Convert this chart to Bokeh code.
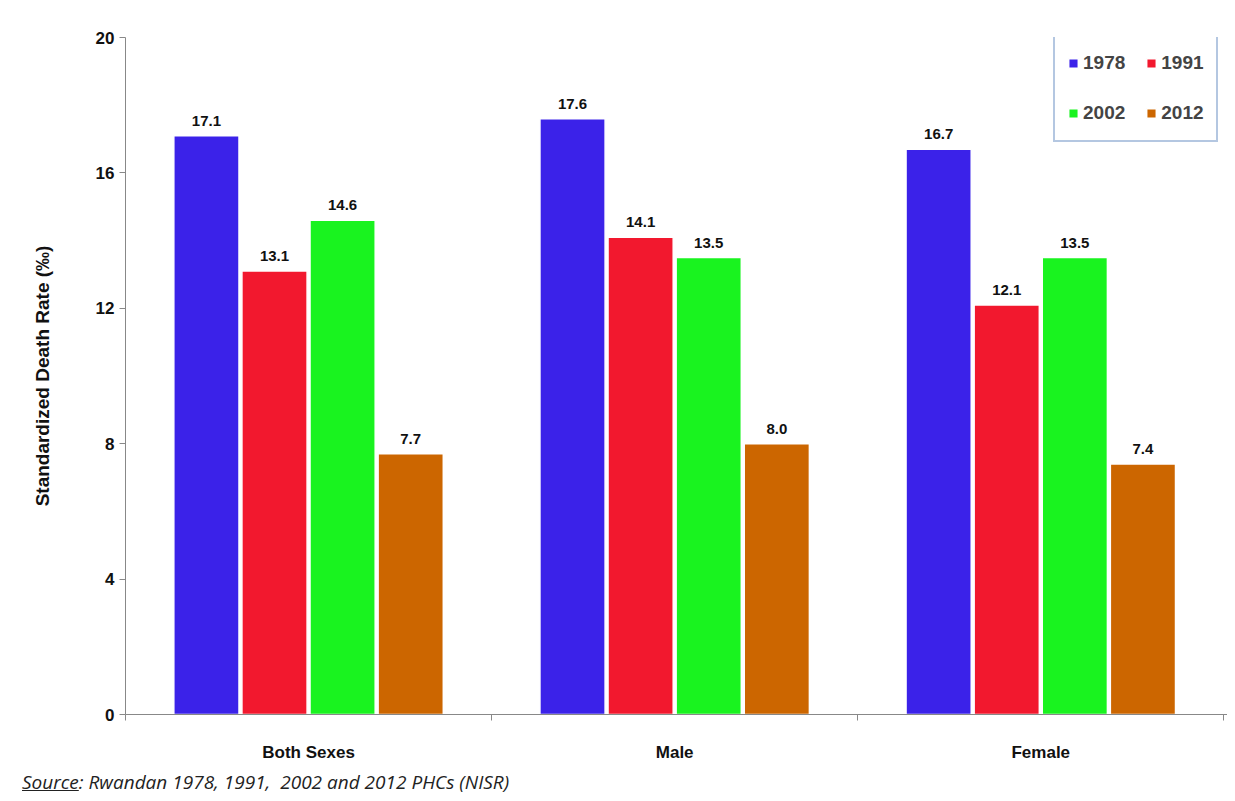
from bokeh.plotting import figure
from bokeh.models import Range1d, FixedTicker, Legend, LegendItem, ColumnDataSource, Div
from bokeh.core.properties import value
from bokeh.layouts import column
from bokeh.embed import file_html
from bokeh.resources import INLINE

groups = ["Both Sexes", "Male", "Female"]
years = ["1978", "1991", "2002", "2012"]
colors = ["#3b22e9", "#f2182e", "#19f31f", "#cc6600"]
rates = {
    "1978": [17.1, 17.6, 16.7],
    "1991": [13.1, 14.1, 12.1],
    "2002": [14.6, 13.5, 13.5],
    "2012": [7.7, 8.0, 7.4],
}
offsets = [-0.279, -0.093, 0.093, 0.279]

p = figure(width=1227, height=764, output_backend="svg", toolbar_location=None,
           x_range=Range1d(0, 3.01), y_range=Range1d(0, 20),
           min_border_left=125, min_border_right=0, min_border_top=37, min_border_bottom=46)
p.outline_line_color = None
p.xgrid.visible = False
p.ygrid.visible = False

items = []
for yr, col, off in zip(years, colors, offsets):
    xs = [i + 0.5 + off for i in range(len(groups))]
    src = ColumnDataSource(dict(x=xs, top=rates[yr], lab=[f"{v:.1f}" for v in rates[yr]]))
    r = p.vbar(x="x", top="top", width=0.178, bottom=0, source=src, fill_color=col,
               line_color="white", line_width=1.5)
    p.text(x="x", y="top", text="lab", source=src, text_align="center", text_baseline="bottom",
           y_offset=-10, text_font_size="15px", text_font_style="bold",
           text_font=value("Liberation Sans"), text_color="#111111")
    items.append(LegendItem(label=yr, renderers=[r]))

legend = Legend(items=items, ncols=2, location=(928, 572), orientation="horizontal",
                label_text_font_size="19px", label_text_font_style="bold",
                label_text_font="Liberation Sans", glyph_width=12, glyph_height=12,
                spacing=20, label_standoff=4, padding=12, margin=0,
                border_line_color="#6a8fc4", border_line_width=2, background_fill_alpha=1)
legend.label_height = 30
p.add_layout(legend, "center")

p.xaxis.ticker = FixedTicker(ticks=[0.5, 1.5, 2.5], minor_ticks=[0, 1, 2, 3])
p.xaxis.major_label_overrides = {0.5: "Both Sexes", 1.5: "Male", 2.5: "Female"}
p.xaxis.major_tick_out = 0
p.xaxis.major_tick_in = 0
p.xaxis.minor_tick_out = 6
p.xaxis.minor_tick_in = 0
p.xaxis.major_label_standoff = 22
p.yaxis.ticker = FixedTicker(ticks=[0, 4, 8, 12, 16, 20])
p.yaxis.major_tick_in = 0
p.yaxis.major_tick_out = 6
p.yaxis.axis_label = "Standardized Death Rate (‰)"
for ax in (p.xaxis, p.yaxis):
    ax.axis_line_color = "#888888"
    ax.major_tick_line_color = "#888888"
    ax.minor_tick_line_color = "#888888"
    ax.major_label_text_font = "Liberation Sans"
    ax.major_label_text_font_style = "bold"
    ax.major_label_text_font_size = "17px"
    ax.major_label_text_color = "#111111"
p.yaxis.axis_label_text_font = "Liberation Sans"
p.yaxis.axis_label_text_font_style = "bold"
p.yaxis.axis_label_text_font_size = "19px"
p.yaxis.axis_label_text_color = "#111111"
p.yaxis.axis_label_standoff = 40

src_div = Div(text="<u>Source</u>: Rwandan 1978, 1991,&nbsp; 2002 and 2012 PHCs (NISR)",
              styles={"font-family": "Open Sans", "font-style": "italic", "font-size": "19px",
                      "margin-left": "22px", "color": "#222"})

layout = column(p, src_div)
open("out.html", "w").write(file_html(layout, INLINE))
